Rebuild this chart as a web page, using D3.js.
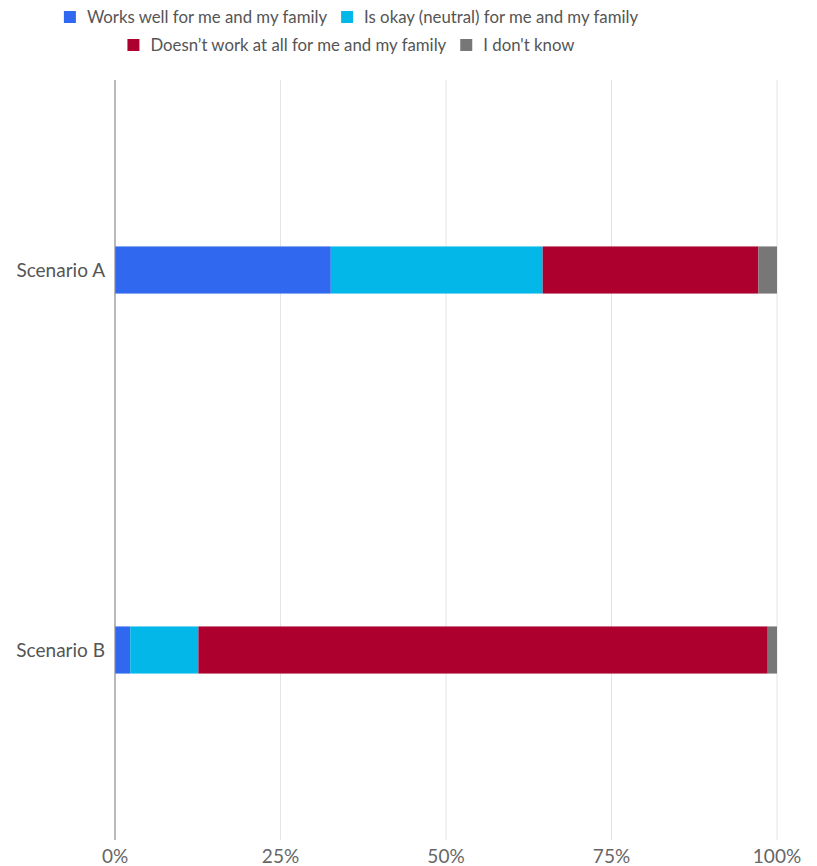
<!DOCTYPE html>
<html><head><meta charset="utf-8">
<script src="https://cdn.jsdelivr.net/npm/d3@7"></script>
<style>body{margin:0;background:#fff;}svg{display:block;font-family:Lato,"Open Sans",sans-serif;}</style>
</head><body>
<svg id="chart" width="817" height="866"></svg>
<script>
const categories = ["Scenario A", "Scenario B"];
const seriesNames = ["Works well for me and my family", "Is okay (neutral) for me and my family", "Doesn’t work at all for me and my family", "I don't know"];
const worksWell = [32.6, 2.3];
const neutral = [32.0, 10.3];
const notAtAll = [32.6, 86.0];
const dontKnow = [2.8, 1.4];
const tickValues = [0, 25, 50, 75, 100];
const colors = ["#3068ef", "#03b8e8", "#ad002f", "#777777"];

const svg = d3.select("#chart");
const margin = {left: 115, right: 40, top: 80, bottom: 26};
const W = 817, H = 866;
const x = d3.scaleLinear().domain([0, 100]).range([margin.left, W - margin.right]);
const y = d3.scaleBand().domain(categories).range([margin.top, H - margin.bottom]).paddingInner(0.876).paddingOuter(0.438);

// gridlines
svg.append("g").selectAll("line").data(tickValues.slice(1)).join("line")
  .attr("x1", d => x(d)).attr("x2", d => x(d))
  .attr("y1", margin.top).attr("y2", H - margin.bottom)
  .attr("stroke", "#e4e4e4").attr("stroke-width", 1);

// stacked data
const rows = categories.map((c, i) => ({cat: c, s0: worksWell[i], s1: neutral[i], s2: notAtAll[i], s3: dontKnow[i]}));
const stack = d3.stack().keys(["s0", "s1", "s2", "s3"])(rows);
svg.append("g").selectAll("g").data(stack).join("g")
  .attr("fill", (d, i) => colors[i])
  .selectAll("rect").data(d => d).join("rect")
  .attr("x", d => x(d[0])).attr("width", d => x(d[1]) - x(d[0]))
  .attr("y", d => y(d.data.cat)).attr("height", y.bandwidth());

// axis line
svg.append("line").attr("x1", x(0)).attr("x2", x(0))
  .attr("y1", margin.top).attr("y2", H - margin.bottom)
  .attr("stroke", "#8a8a8a").attr("stroke-width", 1.2);

// x tick labels
svg.append("g").selectAll("text").data(tickValues).join("text")
  .attr("x", d => x(d)).attr("y", 863)
  .attr("text-anchor", "middle").attr("font-size", 19).attr("fill", "#666")
  .text(d => d + "%");

// y labels
svg.append("g").selectAll("text").data(categories).join("text")
  .attr("x", 105).attr("y", d => y(d) + y.bandwidth() / 2)
  .attr("dy", "0.35em").attr("text-anchor", "end").attr("font-size", 19).attr("fill", "#555")
  .text(d => d);

// legend
const legendRows = [[0, 1], [2, 3]];
const legendY = [17, 45];
const sw = 12, gap = 11, itemGap = 14, cx = 351;
legendRows.forEach((row, ri) => {
  const g = svg.append("g");
  let xpos = 0;
  const items = row.map(i => {
    const t = g.append("text").attr("font-size", 16.8).attr("fill", "#555").attr("dy", "0.35em").text(seriesNames[i]);
    const w = t.node().getComputedTextLength();
    const item = {i, t, start: xpos};
    xpos += sw + gap + w + itemGap;
    return item;
  });
  const total = xpos - itemGap;
  const x0 = cx - total / 2;
  items.forEach(it => {
    g.append("rect").attr("x", x0 + it.start).attr("y", legendY[ri] - sw / 2).attr("width", sw).attr("height", sw).attr("fill", colors[it.i]);
    it.t.attr("x", x0 + it.start + sw + gap).attr("y", legendY[ri]);
  });
});
</script>
</body></html>
